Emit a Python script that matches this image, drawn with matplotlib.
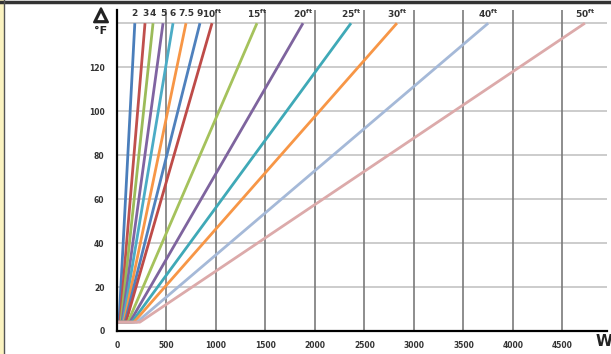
from matplotlib import pyplot as plt
from matplotlib import patheffects as pe

# pipe lengths and where each line starts / ends (W at 4 F and at 140 F)
labels = ["2", "3", "4", "5", "6", "7.5", "9", "10", "15", "20", "25", "30", "40", "50"]
start_w = [20, 30, 40, 50, 60, 70, 80, 90, 110, 130, 150, 170, 200, 230]
end_w = [180, 283, 364, 465, 566, 697, 838, 960, 1414, 1879, 2364, 2828, 3750, 4727]
start_f = 4
end_f = 140
colors = ["#4a7ebb", "#c0504d", "#9bbb59", "#8064a2", "#4bacc6", "#f79646",
          "#4f81bd", "#be4b48", "#a5c25c", "#7e649e", "#3fa9b7", "#f79646",
          "#a5b9d8", "#dcaaaa"]

xticks = [0, 500, 1000, 1500, 2000, 2500, 3000, 3500, 4000, 4500]
yticks = [0, 20, 40, 60, 80, 100, 120]

fig = plt.figure(figsize=(6.11, 3.54), dpi=100)
ax = fig.add_axes([117 / 611, 23 / 354, 490 / 611, 321 / 354])

# grid
for g in [20, 40, 60, 80, 100, 120, 140]:
    ax.axhline(g, color="#c8c8c8", lw=1.3, zorder=1)
for g in xticks[1:]:
    ax.axvline(g, color="#7a7a7a", lw=1.2, zorder=2)

for i in range(len(labels)):
    ax.plot([0, start_w[i], end_w[i]], [start_f, start_f, end_f],
            color=colors[i], lw=2.0, zorder=3, solid_capstyle="butt")
    if i < 7:
        txt = labels[i]
    else:
        txt = r"$\mathbf{" + labels[i] + "^{ft}}$"
    ax.text(end_w[i], 144.3, txt, ha="center", va="center", fontsize=6.5,
            fontweight="bold", color="#333333")

ax.set_xlim(0, 4950)
ax.set_ylim(0, 146)
ax.set_xticks(xticks)
ax.set_yticks(yticks)
ax.tick_params(length=0, labelsize=5.5, colors="#333333", pad=7)
for lab in ax.get_xticklabels() + ax.get_yticklabels():
    lab.set_fontweight("bold")
ax.tick_params(axis="y", pad=9)

for s in ["top", "right"]:
    ax.spines[s].set_visible(False)
ax.spines["left"].set_linewidth(1.6)
ax.spines["bottom"].set_linewidth(1.6)
ax.spines["left"].set_zorder(4)
ax.spines["bottom"].set_zorder(4)

fig.text(101 / 611, 1 - 15 / 354, "\u25b3", ha="center", va="center",
         fontsize=13, fontweight="bold", color="#222222",
         path_effects=[pe.withStroke(linewidth=1.6, foreground="#222222")])
fig.text(101 / 611, 1 - 31 / 354, "\u00b0F", ha="center", va="center",
         fontsize=8, fontweight="bold", color="#222222")
fig.text(604 / 611, 1 - 341 / 354, "W", ha="center", va="center",
         fontsize=11, fontweight="bold", color="#222222")

# frame round the picture
fig.add_artist(plt.Line2D([0, 1], [1 - 1.5 / 354, 1 - 1.5 / 354], color="#333333", lw=2.5))
fig.patches.append(plt.Rectangle((0, 0), 3 / 611, 1, transform=fig.transFigure,
                                 color="#fbf3c0", zorder=0))
fig.add_artist(plt.Line2D([3.5 / 611, 3.5 / 611], [0, 1], color="#555555", lw=1))

fig.savefig("out.png", dpi=100)
